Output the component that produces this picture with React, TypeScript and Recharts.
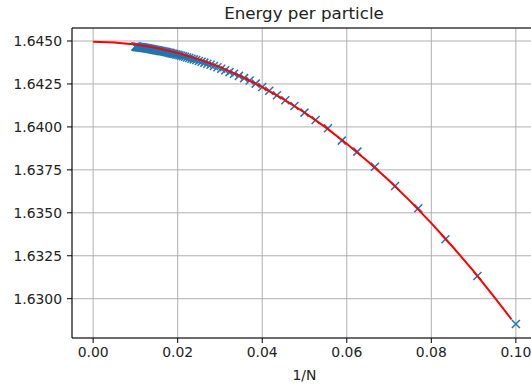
import React from 'react';
import { ComposedChart, Scatter, XAxis, YAxis, CartesianGrid, ReferenceLine, Label } from 'recharts';

// system sizes N, plotted against 1/N
const sizes = [
  10, 11, 12, 13, 14, 15, 16, 17, 18, 19,
  20, 21, 22, 23, 24, 25, 26, 27, 28, 29,
  30, 31, 32, 33, 34, 35, 36, 37, 38, 39,
  40, 41, 42, 43, 44, 45, 46, 47, 48, 49,
  50, 51, 52, 53, 54, 55, 56, 57, 58, 59,
  60, 61, 62, 63, 64, 65, 66, 67, 68, 69,
  70, 71, 72, 73, 74, 75, 76, 77, 78, 79,
  80, 81, 82, 83, 84, 85, 86, 87, 88, 89,
  90, 91, 92, 93, 94, 95, 96, 97, 98, 99,
  100
];

const energies = [
  1.62853, 1.63132, 1.63346, 1.63526, 1.63656, 1.63768, 1.63856, 1.6392, 1.63992, 1.6404,
  1.64083, 1.64122, 1.64155, 1.64184, 1.6421, 1.64232, 1.64252, 1.6427, 1.64284, 1.64297,
  1.64309, 1.64319, 1.6433, 1.64339, 1.64347, 1.64354, 1.64362, 1.64368, 1.64374, 1.64379,
  1.64384, 1.64389, 1.64393, 1.64397, 1.64401, 1.64404, 1.64408, 1.64411, 1.64414, 1.64417,
  1.6442, 1.64422, 1.64424, 1.64426, 1.64428, 1.64431, 1.64432, 1.64434, 1.64436, 1.64438,
  1.64439, 1.6444, 1.64441, 1.64442, 1.64444, 1.64445, 1.64446, 1.64447, 1.64448, 1.64449,
  1.6445, 1.64451, 1.64452, 1.64453, 1.64454, 1.64455, 1.64455, 1.64456, 1.64457, 1.64458,
  1.64458, 1.64459, 1.64459, 1.6446, 1.64461, 1.64461, 1.64462, 1.64462, 1.64463, 1.64463,
  1.64464, 1.64464, 1.64464, 1.64465, 1.64465, 1.64466, 1.64466, 1.64466, 1.64467, 1.64467,
  1.64468
];

// fitted curve (red)
const fitX = [0, 0.005, 0.01, 0.015, 0.02, 0.025, 0.03, 0.035, 0.04, 0.045, 0.05, 0.055, 0.06, 0.065, 0.07, 0.075, 0.08, 0.085, 0.09, 0.095, 0.099];
const fitY = [1.64496, 1.64492, 1.6448, 1.64459, 1.6443, 1.64393, 1.64348, 1.64294, 1.64232, 1.64162, 1.64084, 1.63997, 1.63902, 1.63799, 1.63688, 1.63568, 1.6344, 1.63304, 1.6316, 1.63007, 1.62879];

const xTicks = [0, 0.02, 0.04, 0.06, 0.08, 0.1];
const yTicks = [1.63, 1.6325, 1.635, 1.6375, 1.64, 1.6425, 1.645];

const points = sizes.map((n, i) => ({ x: 1 / n, y: energies[i] }));
const fit = fitX.map((x, i) => ({ x, y: fitY[i] }));

const FONT = '"DejaVu Sans", sans-serif';
const TXT = '#222';
const Y_MIN = 1.627713;
const Y_MAX = 1.645757;

const XMark = (props: any) => {
  const { cx, cy } = props;
  const r = 4;
  return (
    <path
      d={`M${cx - r},${cy - r}L${cx + r},${cy + r}M${cx - r},${cy + r}L${cx + r},${cy - r}`}
      stroke="#1f77b4"
      strokeWidth={1.5}
      fill="none"
    />
  );
};

const NoDot = () => <g />;

export default function App() {
  return (
    <div style={{ position: 'absolute', left: 0, top: 0, width: 531, height: 387, overflow: 'hidden', background: '#fff' }}>
      <div
        style={{
          position: 'absolute', left: 204, width: 200, top: 3, textAlign: 'center',
          fontFamily: FONT, fontSize: 16.7, color: TXT, lineHeight: '20px'
        }}
      >
        Energy per particle
      </div>
      <ComposedChart width={560} height={387} margin={{ top: 28, right: 23, bottom: 0, left: 0 }}>
        <CartesianGrid stroke="#b0b0b0" strokeWidth={1} />
        <XAxis
          type="number"
          dataKey="x"
          domain={[-0.005, 0.105]}
          ticks={xTicks}
          allowDataOverflow
          tickFormatter={(v: number) => v.toFixed(2)}
          height={49}
          tickSize={5}
          tickMargin={4}
          stroke="#000"
          tick={{ fill: TXT, fontSize: 13.9, fontFamily: FONT }}
        >
          <Label value="1/N" position="insideBottom" offset={7} fill={TXT} fontSize={13.9} fontFamily={FONT} />
        </XAxis>
        <YAxis
          type="number"
          dataKey="y"
          domain={[Y_MIN, Y_MAX]}
          ticks={yTicks}
          allowDataOverflow
          tickFormatter={(v: number) => v.toFixed(4)}
          width={72}
          tickSize={5}
          tickMargin={5}
          stroke="#000"
          tick={{ fill: TXT, fontSize: 13.9, fontFamily: FONT }}
        />
        <ReferenceLine y={Y_MAX} stroke="#000" strokeWidth={1} />
        <Scatter data={points} dataKey="y" shape={<XMark />} isAnimationActive={false} />
        <Scatter
          data={fit}
          dataKey="y"
          shape={<NoDot />}
          line={{ stroke: '#ff0000', strokeWidth: 2 }}
          lineType="joint"
          isAnimationActive={false}
        />
      </ComposedChart>
    </div>
  );
}
